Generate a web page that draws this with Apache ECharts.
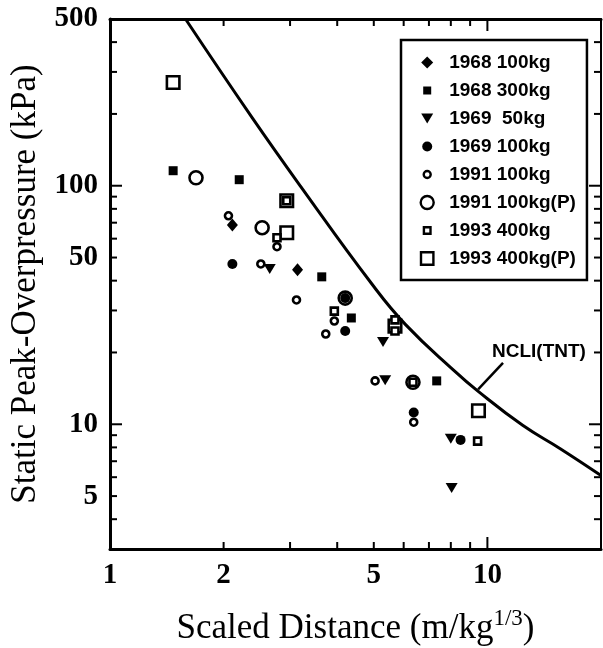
<!DOCTYPE html>
<html><head><meta charset="utf-8">
<script src="https://cdn.jsdelivr.net/npm/echarts@6/dist/echarts.min.js"></script>
<style>html,body{margin:0;padding:0;background:#fff}#c{width:603px;height:648px}</style>
</head><body><div id="c"></div>
<script>
// ---- axis ranges and tick values ----
const xRange = [1, 20];
const yRange = [3, 500];
const xLabels = [1, 2, 5, 10];
const xMajor = [10];
const xMinor = [2, 3, 4, 5, 6, 7, 8, 9];
const yLabels = [5, 10, 50, 100, 500];
const yMajor = [10, 100];
const yMinor = [4, 5, 6, 7, 8, 9, 20, 30, 40, 50, 60, 70, 80, 90, 200, 300, 400];

// ---- series data [scaled distance, overpressure kPa] ----
const names = ['1968 100kg', '1968 300kg', '1969  50kg', '1969 100kg', '1991 100kg', '1991 100kg(P)', '1993 400kg', '1993 400kg(P)'];
const d1968_100 = [[2.11, 68.5], [3.14, 44.4]];
const d1968_300 = [[1.47, 115.6], [2.2, 106], [3.64, 41.5], [4.36, 27.9], [7.34, 15.2]];
const d1969_50 = [[2.65, 44.8], [5.29, 22.1], [5.36, 15.3], [8.0, 8.7], [8.04, 5.4]];
const d1969_100 = [[2.11, 47], [4.2, 24.6], [6.38, 11.2], [8.49, 8.6], [4.2, 33.8]];
const d1991_100 = [[2.06, 74.8], [2.51, 47], [2.77, 55.5], [3.12, 33.2], [3.93, 27.1], [3.73, 23.9], [5.04, 15.2], [6.38, 10.2]];
const d1991_100P = [[1.69, 108], [2.53, 66.7], [4.2, 33.8], [6.35, 15.0]];
const d1993_400 = [[2.77, 60.5], [3.93, 29.8], [9.42, 8.5], [6.35, 15.0], [2.94, 86.5], [5.69, 27.4], [5.69, 24.6]];
const d1993_400P = [[1.47, 271], [2.94, 86.5], [2.94, 63.5], [5.69, 25.8], [9.47, 11.4]];

// ---- NCLI(TNT) curve ----
const ncliX = [1.585, 2.38, 3.22, 4.92, 6.08, 8.19, 9.42, 12.4, 15.6, 20];
const ncliY = [500, 193, 98, 39.1, 26.1, 16.7, 13.8, 9.9, 7.9, 6.1];
const ncliLabel = 'NCLI(TNT)';
const arrowFrom = [11.0, 18.1];
const arrowTo = [9.45, 14.0];
const labelAt = [13.7, 20.2];

const serif = 'Liberation Serif';
const sans = 'Liberation Sans';

// legend icons (16x16 frame)
const icons = [
  'path://M0,0M16,16M8,2L14,8L8,14L2,8Z',
  'path://M0,0M16,16M4,4L12,4L12,12L4,12Z',
  'path://M0,0M16,16M2,3L14,3L8,13Z',
  'path://M0,0M16,16M8,3A5,5,0,1,1,8,13A5,5,0,1,1,8,3Z',
  'path://M0,0M16,16M8,4.5A3.5,3.5,0,1,1,8,11.5A3.5,3.5,0,1,1,8,4.5Z',
  'path://M0,0M16,16M8,1.5A6.5,6.5,0,1,1,8,14.5A6.5,6.5,0,1,1,8,1.5Z',
  'path://M0,0M16,16M4.7,4.7L11.3,4.7L11.3,11.3L4.7,11.3Z',
  'path://M0,0M16,16M1.8,1.8L14.2,1.8L14.2,14.2L1.8,14.2Z'
];
const open = [false, false, false, false, true, true, true, true];

function mkX(pos, showLabel, lw) {
  return {
    type: 'log', logBase: 10, min: xRange[0], max: xRange[1], position: pos,
    axisLine: { show: true, onZero: false, lineStyle: { color: '#000', width: lw } },
    axisTick: { show: false },
    axisLabel: { show: showLabel, customValues: xLabels, margin: 12, color: '#000',
      fontFamily: serif, fontWeight: 'bold', fontSize: 29 },
    splitLine: { show: false }, minorTick: { show: false }
  };
}
function mkY(pos, showLabel, lw) {
  return {
    type: 'log', logBase: 10, min: yRange[0], max: yRange[1], position: pos,
    axisLine: { show: true, onZero: false, lineStyle: { color: '#000', width: lw } },
    axisTick: { show: false },
    axisLabel: { show: showLabel, customValues: yLabels, margin: 12, color: '#000',
      fontFamily: serif, fontWeight: 'bold', fontSize: 29 },
    splitLine: { show: false }, minorTick: { show: false }
  };
}

const xAxes = [mkX('bottom', true, 3), mkX('top', false, 3)];
xAxes[0].name = '{a|Scaled Distance (m/kg}{s|1/3}{a|)}';
xAxes[0].nameLocation = 'middle';
xAxes[0].nameGap = 57;
xAxes[0].nameTextStyle = {
  rich: {
    a: { fontFamily: serif, fontSize: 35, color: '#000', lineHeight: 40, verticalAlign: 'bottom' },
    s: { fontFamily: serif, fontSize: 23, color: '#000', lineHeight: 40, verticalAlign: 'bottom', padding: [0, 0, 16, 0] }
  }
};
const yAxes = [mkY('left', true, 3), mkY('right', false, 2)];
yAxes[0].name = 'Static Peak-Overpressure (kPa)';
yAxes[0].nameLocation = 'middle';
yAxes[0].nameGap = 63;
yAxes[0].nameTextStyle = { fontFamily: serif, fontSize: 35, color: '#000' };

const dataSets = [d1968_100, d1968_300, d1969_50, d1969_100, d1991_100, d1991_100P, d1993_400, d1993_400P];
const symbols = ['diamond', 'rect', 'path://M0,0L10,0L5,9Z', 'circle', 'circle', 'circle', 'rect', 'rect'];
const sizes = [[11, 13], 9, [12, 10], 10, 7, 13, 7, 12.5];
const zs = [4, 4, 4, 4, 5, 2, 5, 2];

const series = dataSets.map((d, i) => ({
  name: names[i], type: 'scatter', xAxisIndex: 0, yAxisIndex: 0,
  data: d, symbol: symbols[i], symbolSize: sizes[i], z: zs[i],
  itemStyle: open[i] ? { color: '#fff', borderColor: '#000', borderWidth: 2.6, opacity: 1 } : { color: '#000', borderWidth: 0, opacity: 1 },
  emphasis: { disabled: true }, animation: false
}));

series.push({
  name: ncliLabel, type: 'line', xAxisIndex: 0, yAxisIndex: 0,
  data: ncliX.map((x, i) => [x, ncliY[i]]), smooth: 0.45, showSymbol: false, symbol: 'none',
  lineStyle: { color: '#000', width: 3 }, z: 3, animation: false, silent: true,
  markLine: {
    silent: true, symbol: ['none', 'arrow'], symbolSize: [0, 12], animation: false,
    lineStyle: { color: '#000', width: 2.5, type: 'solid' }, label: { show: false },
    data: [[{ coord: arrowFrom }, { coord: arrowTo }]]
  },
  markPoint: {
    silent: true, symbol: 'circle', symbolSize: 1, itemStyle: { color: 'rgba(0,0,0,0)' }, animation: false,
    label: { show: true, position: 'inside', formatter: ncliLabel, color: '#000', fontFamily: sans, fontWeight: 'bold', fontSize: 19 },
    data: [{ coord: labelAt }]
  }
});

// ---- axis ticks (inward, on all four sides), positioned through the axes' scales ----
const majorLen = 12, minorLen = 7;
function tickSeries(vals, len, isX) {
  return {
    type: 'custom', xAxisIndex: 0, yAxisIndex: 0, silent: true, z: 6, clip: false, animation: false,
    data: vals.map(v => isX ? [v, yRange[0]] : [xRange[0], v]),
    renderItem: function (params, api) {
      const cs = params.coordSys;
      const st = { stroke: '#000', lineWidth: 2 };
      if (isX) {
        const x = api.coord([api.value(0), yRange[0]])[0];
        const yb = cs.y + cs.height, yt = cs.y;
        return { type: 'group', children: [
          { type: 'line', shape: { x1: x, y1: yb, x2: x, y2: yb - len }, style: st },
          { type: 'line', shape: { x1: x, y1: yt, x2: x, y2: yt + len }, style: st }
        ] };
      } else {
        const y = api.coord([xRange[0], api.value(1)])[1];
        const xl = cs.x, xr = cs.x + cs.width;
        return { type: 'group', children: [
          { type: 'line', shape: { x1: xl, y1: y, x2: xl + len, y2: y }, style: st },
          { type: 'line', shape: { x1: xr, y1: y, x2: xr - len, y2: y }, style: st }
        ] };
      }
    }
  };
}
series.push(tickSeries(xMajor, majorLen, true));
series.push(tickSeries(xMinor, minorLen, true));
series.push(tickSeries(yMajor, majorLen, false));
series.push(tickSeries(yMinor, minorLen, false));

const option = {
  backgroundColor: '#fff',
  animation: false,
  grid: { left: 110, right: 2, top: 19, bottom: 99, containLabel: false, outerBoundsMode: 'none' },
  xAxis: xAxes,
  yAxis: yAxes,
  legend: {
    orient: 'vertical', left: 401, top: 40,
    itemWidth: 34, itemHeight: 16, itemGap: 9,
    padding: [13, 11, 12, 17],
    borderColor: '#000', borderWidth: 2.5, backgroundColor: '#fff',
    selectedMode: false, z: 10,
    textStyle: { fontFamily: sans, fontWeight: 'bold', fontSize: 19, color: '#000' },
    data: names.map((n, i) => ({
      name: n, icon: icons[i],
      itemStyle: open[i] ? { color: '#fff', borderColor: '#000', borderWidth: 2.4 } : { color: '#000', borderWidth: 0 }
    }))
  },
  series: series
};
const chart = echarts.init(document.getElementById('c'), null, { renderer: 'canvas' });
chart.setOption(option);
</script></body></html>
